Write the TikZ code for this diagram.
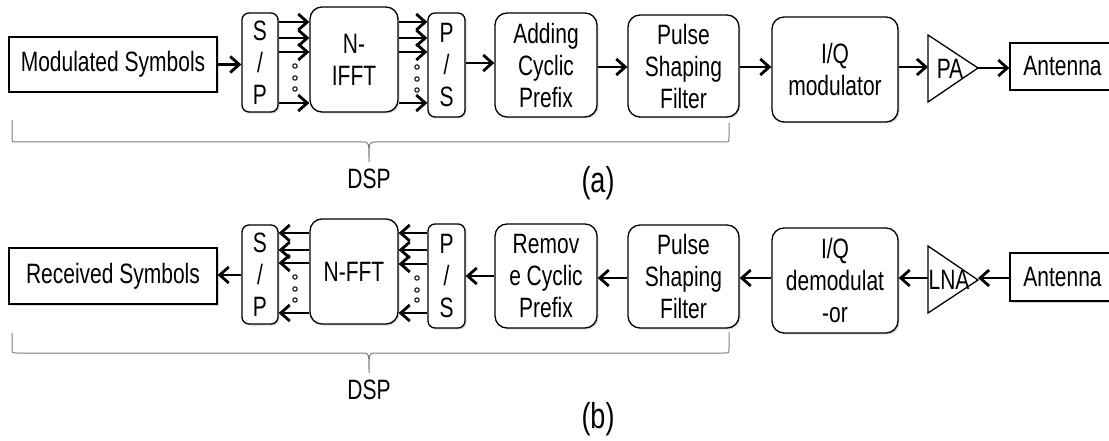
\documentclass[tikz,border=0pt]{standalone}
\usepackage{fontspec}
\setmainfont{Liberation Sans}[FakeStretch=0.75]
\usetikzlibrary{arrows.meta,shadows}
\begin{document}
\begin{tikzpicture}[x=1pt, y=-1pt,
    font=\fontsize{28}{32}\selectfont,
    blk/.style={draw, line width=1.3pt, rounded corners=12pt, align=center, inner sep=0pt, fill=white,
                drop shadow={opacity=0.3, shadow xshift=1.5pt, shadow yshift=-1.5pt}},
    sq/.style={blk, rounded corners=0pt},
    arr/.style={line width=2.8pt, -{Straight Barb[length=9pt,width=16pt]}},
    amp/.style={draw, line width=1.3pt, fill=white},
    dotc/.style={line width=1pt},
    brc/.style={draw=gray, line width=1pt},
    sublabel/.style={font=\fontsize{36}{40}\selectfont}]
\useasboundingbox (0,0) rectangle (1109,441);

% (a) transmitter
\node[sq, minimum width=208pt, minimum height=55pt] (msym) at (113,64.5) {Modulated Symbols};
\node[blk, rounded corners=7pt, minimum width=36pt, minimum height=99pt] (sp1) at (260,62.5) {S\\/\\P};
\node[blk, minimum width=88pt, minimum height=105pt] (ifft) at (354,59.5) {N-\\IFFT};
\node[blk, rounded corners=7pt, minimum width=37pt, minimum height=104pt] (ps1) at (446.5,65) {P\\/\\S};
\node[blk, minimum width=102pt, minimum height=104pt] (acp) at (546,65) {Adding\\Cyclic\\Prefix};
\node[blk, minimum width=111pt, minimum height=102pt] (psf1) at (683.5,66) {Pulse\\Shaping\\Filter};
\node[blk, minimum width=126pt, minimum height=105pt] (iqm) at (835,69.5) {I/Q\\modulator};
\draw[amp] (928,35) -- (978,68) -- (928,102) -- cycle;
\node (pa) at (950,69) {PA};
\coordinate (pa-in) at (928,67);
\coordinate (pa-out) at (978,68);
\node[sq, minimum width=105pt, minimum height=47pt] (ant1) at (1062.5,66.5) {Antenna};

\draw[arr] (msym) -- (sp1.west |- msym);
\foreach \y in {22,38,52,103} \draw[arr] (sp1.east |- 0,\y) -- (ifft.west |- 0,\y);
\foreach \y in {22,38,52,103} \draw[arr] (ifft.east |- 0,\y) -- (ps1.west |- 0,\y);
\foreach \y in {66,78,89} \draw[dotc] (295,\y) circle (2.2pt);
\foreach \y in {67,79,90} \draw[dotc] (417,\y) circle (2.2pt);
\draw[arr] (ps1.east |- 0,63) -- (acp.west |- 0,63);
\draw[arr] (acp.east |- 0,67) -- (psf1.west |- 0,67);
\draw[arr] (psf1.east |- 0,67) -- (iqm.west |- 0,67);
\draw[arr] (iqm.east |- pa-in) -- (pa-in);
\draw[arr] (pa-out) -- (ant1.west |- pa-out);

\draw[brc] (12,120) -- (12,137) .. controls (12,142) .. (17,142) -- (363,142)
    .. controls (369,142) .. (369,162) .. controls (369,142) .. (375,142) -- (724,142)
    .. controls (729,142) .. (729,137) -- (729,123);
\node (dsp1) at (369,179) {DSP};
\node[sublabel] (lbla) at (598,183) {(a)};

% (b) receiver
\node[sq, minimum width=208pt, minimum height=56pt] (rsym) at (113,276) {Received Symbols};
\node[blk, rounded corners=7pt, minimum width=36pt, minimum height=99pt] (sp2) at (260,274.5) {S\\/\\P};
\node[blk, minimum width=88pt, minimum height=105pt] (fft) at (354,271.5) {N-FFT};
\node[blk, rounded corners=7pt, minimum width=37pt, minimum height=104pt] (ps2) at (446.5,276) {P\\/\\S};
\node[blk, minimum width=102pt, minimum height=104pt] (rcp) at (546,276) {Remov\\e Cyclic\\Prefix};
\node[blk, minimum width=111pt, minimum height=103pt] (psf2) at (683.5,276.5) {Pulse\\Shaping\\Filter};
\node[blk, minimum width=126pt, minimum height=105pt] (iqd) at (835,280.5) {I/Q\\demodulat\\-or};
\draw[amp] (928,246) -- (978,280) -- (928,313) -- cycle;
\node (lna) at (949,280) {LNA};
\coordinate (lna-out) at (928,278);
\coordinate (lna-in) at (978,278);
\node[sq, minimum width=105pt, minimum height=48pt] (ant2) at (1062.5,277) {Antenna};

\draw[arr] (sp2.west |- 0,275) -- (rsym.east |- 0,275);
\foreach \y in {233,250,263,313} \draw[arr] (fft.west |- 0,\y) -- (sp2.east |- 0,\y);
\foreach \y in {233,250,264,313} \draw[arr] (ps2.west |- 0,\y) -- (fft.east |- 0,\y);
\foreach \y in {277,289,300} \draw[dotc] (295,\y) circle (2.2pt);
\foreach \y in {278,290,300} \draw[dotc] (417,\y) circle (2.2pt);
\draw[arr] (rcp.west |- 0,276) -- (ps2.east |- 0,276);
\draw[arr] (psf2.west |- 0,278) -- (rcp.east |- 0,278);
\draw[arr] (iqd.west |- 0,278) -- (psf2.east |- 0,278);
\draw[arr] (lna-out) -- (iqd.east |- lna-out);
\draw[arr] (ant2.west |- lna-in) -- (lna-in);

\draw[brc] (12,333) -- (12,348) .. controls (12,353) .. (17,353) -- (363,353)
    .. controls (369,353) .. (369,373) .. controls (369,353) .. (375,353) -- (724,353)
    .. controls (729,353) .. (729,348) -- (729,332);
\node (dsp2) at (369,390) {DSP};
\node[sublabel] (lblb) at (598,419) {(b)};
\end{tikzpicture}
\end{document}
